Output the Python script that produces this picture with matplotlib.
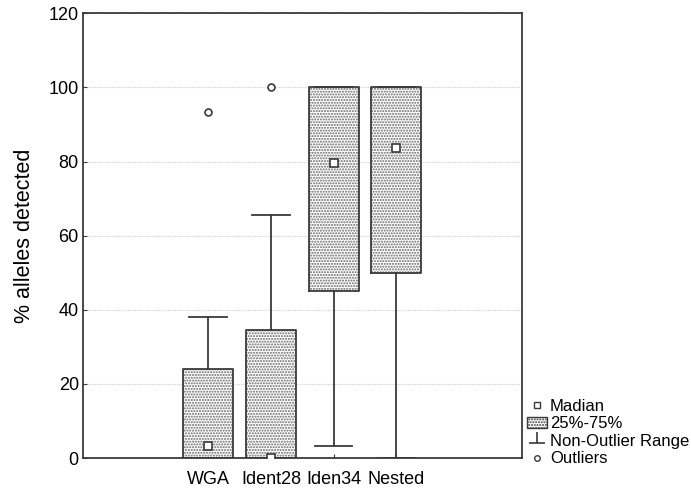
import matplotlib.pyplot as plt
import numpy as np
from matplotlib.lines import Line2D
from matplotlib.patches import Patch
from matplotlib.path import Path

plt.rcParams['font.family'] = ['Liberation Sans', 'DejaVu Sans']
plt.rcParams['hatch.color'] = '#666666'
plt.rcParams['hatch.linewidth'] = 1.0

# values
groups = ['WGA', 'Ident28', 'Iden34', 'Nested']
medians = [3.3, 0.0, 79.5, 83.6]
q1 = [0.0, 0.0, 45.0, 50.0]
q3 = [24.0, 34.5, 100.0, 100.0]
whis_lo = [0.0, 0.0, 3.3, 0.0]
whis_hi = [38.0, 65.5, 100.0, 100.0]
outliers = [[93.3], [100.0], [], []]

edge = '#3a3a3a'
pos = np.arange(1, len(groups) + 1)

fig = plt.figure(figsize=(6.91, 4.9), dpi=100)
ax = fig.add_axes([0.120, 0.065, 0.635, 0.908])

ax.set_axisbelow(True)
ax.yaxis.grid(True, color='#d0d0d0', linewidth=0.8, linestyle=(0, (1, 1)))

# dotted fill of the boxes
ax.bar(pos, np.array(q3) - np.array(q1), bottom=q1, width=0.8, color='white',
       hatch='......', linewidth=0, zorder=1)

stats = []
for i in range(len(groups)):
    stats.append({'med': medians[i], 'mean': medians[i], 'q1': q1[i], 'q3': q3[i],
                  'whislo': whis_lo[i], 'whishi': whis_hi[i], 'fliers': outliers[i]})

ax.bxp(stats, positions=pos, widths=0.8, capwidths=0.6, showmeans=True,
       boxprops=dict(color=edge, linewidth=1.3),
       whiskerprops=dict(color=edge, linewidth=1.3),
       capprops=dict(color=edge, linewidth=1.3),
       medianprops=dict(linestyle='none'),
       meanprops=dict(marker='s', markersize=6, markerfacecolor='white',
                      markeredgecolor=edge, markeredgewidth=1.2),
       flierprops=dict(marker='o', markersize=5, markerfacecolor='white',
                       markeredgecolor=edge, markeredgewidth=1.2),
       zorder=3)

ax.set_xlim(-1, 6)
ax.set_ylim(0, 120)
ax.set_yticks(np.arange(0, 121, 20))
ax.set_xticks(pos)
ax.set_xticklabels(groups)
ax.tick_params(direction='in', length=3, color=edge)
ax.tick_params(axis='y', labelsize=13, pad=3)
ax.tick_params(axis='x', labelsize=13, pad=9)
ax.set_ylabel('% alleles detected', fontsize=15.5, labelpad=10)
for s in ax.spines.values():
    s.set_color(edge)
    s.set_linewidth(1.3)

perp = Path([(0, 1), (0, -0.3), (-1, -0.3), (1, -0.3)],
            [Path.MOVETO, Path.LINETO, Path.MOVETO, Path.LINETO])
handles = [
    Line2D([], [], linestyle='none', marker='s', markersize=5, markerfacecolor='white',
           markeredgecolor=edge, markeredgewidth=1.0),
    Patch(facecolor='white', edgecolor=edge, hatch='......', linewidth=1.0),
    Line2D([], [], linestyle='none', marker=perp, markersize=12, color=edge,
           markeredgewidth=1.2),
    Line2D([], [], linestyle='none', marker='o', markersize=4, markerfacecolor='white',
           markeredgecolor=edge, markeredgewidth=1.0),
]
labels = ['Madian', '25%-75%', 'Non-Outlier Range', 'Outliers']
ax.legend(handles, labels, loc='lower left', bbox_to_anchor=(1.0, -0.03),
          frameon=False, fontsize=12, handlelength=1.2, handletextpad=0.2,
          labelspacing=0.15, borderaxespad=0.1, borderpad=0.2)

fig.savefig('out.png', dpi=100)
